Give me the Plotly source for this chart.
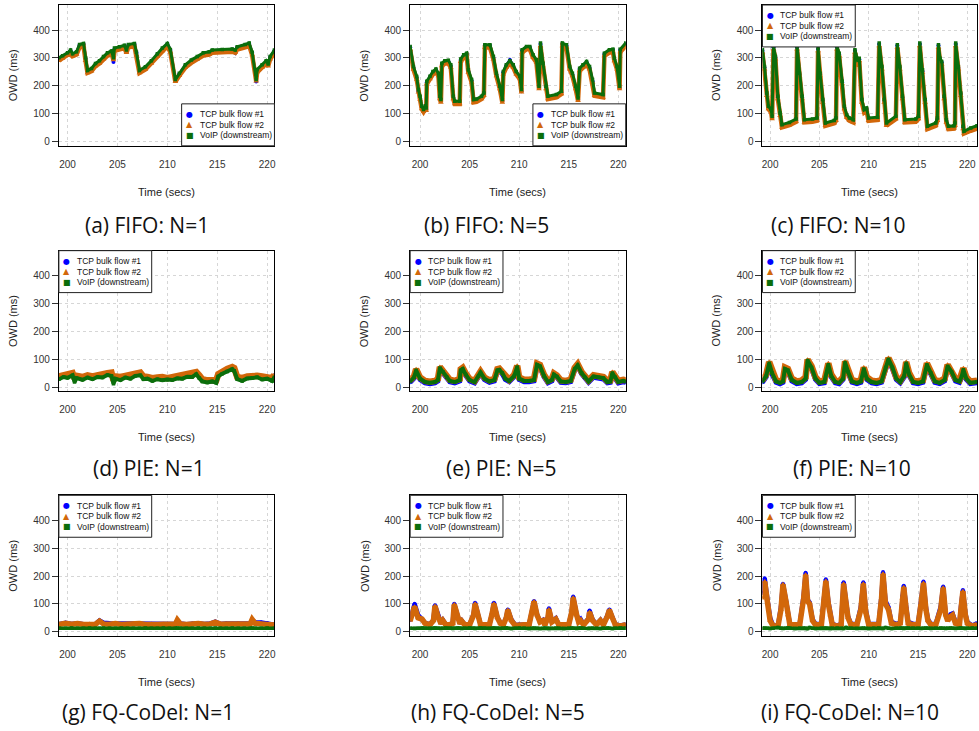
import plotly.graph_objects as go

# ---------------- DATA ----------------
# (a) FIFO N=1
fifo1_t = [199.13, 199.5, 200.0, 200.3, 200.5, 200.9, 201.2, 201.6, 201.8, 202.0,
           202.4, 202.8, 203.2, 203.6, 204.0, 204.4, 204.6, 204.7, 205.2, 205.7,
           205.9, 206.1, 206.7, 206.9, 207.2, 207.8, 208.4, 209.0, 209.5, 210.0,
           210.3, 210.8, 211.2, 211.8, 212.4, 213.0, 213.6, 214.2, 214.5, 215.5,
           216.5, 216.8, 217.0, 217.8, 218.2, 218.5, 218.9, 219.0, 219.5, 219.9,
           220.1, 220.3, 220.73]
fifo1_voip = [300, 308, 318, 328, 315, 322, 348, 352, 300, 255,
              262, 280, 290, 305, 318, 325, 300, 335, 340, 345,
              328, 348, 352, 320, 255, 268, 290, 315, 335, 352,
              330, 222, 245, 275, 292, 305, 318, 322, 328, 330,
              332, 328, 340, 348, 353, 320, 222, 258, 275, 290,
              278, 305, 328]
fifo1_tcp1 = [298, 306, 316, 326, 310, 320, 346, 350, 298, 252,
              258, 275, 285, 300, 315, 322, 285, 332, 338, 342,
              322, 346, 350, 318, 252, 265, 286, 312, 332, 350,
              328, 218, 242, 272, 288, 300, 312, 320, 326, 328,
              330, 318, 338, 346, 351, 318, 215, 255, 272, 286,
              275, 302, 326]
fifo1_tcp2 = [290, 298, 308, 318, 306, 312, 338, 342, 290, 246,
              252, 270, 280, 295, 308, 315, 292, 325, 330, 335,
              318, 338, 342, 310, 246, 258, 280, 305, 325, 342,
              320, 214, 236, 265, 282, 295, 308, 312, 318, 320,
              322, 318, 330, 338, 343, 310, 216, 248, 265, 280,
              270, 295, 318]

# (b) FIFO N=5
fifo5_t = [199.0, 199.33, 199.66, 199.83, 200.0, 200.17, 200.35, 200.55, 200.62, 200.68,
           201.0, 201.3, 201.6, 201.85, 202.0, 202.1, 202.2, 202.5, 202.85, 203.1,
           203.35, 203.5, 204.0, 204.1, 204.4, 204.7, 204.87, 205.2, 205.4, 205.7,
           206.2, 206.44, 206.54, 207.05, 207.4, 207.7, 208.05, 208.3, 208.4, 208.7,
           209.06, 209.4, 209.7, 210.07, 210.23, 210.3, 210.74, 211.07, 211.4, 211.74,
           212.0, 212.15, 212.4, 212.7, 212.9, 213.76, 214.26, 214.36, 214.77, 215.1,
           215.37, 215.7, 215.94, 216.1, 216.44, 216.8, 217.1, 217.4, 217.6, 218.46,
           218.6, 219.1, 219.46, 219.6, 219.87, 220.13, 220.2, 220.75]
fifo5_voip = [341, 269, 233, 186, 162, 126, 114, 128, 120, 216,
              234, 251, 260, 245, 162, 150, 281, 290, 291, 275,
              162, 144, 144, 296, 311, 317, 257, 222, 150, 152,
              162, 174, 347, 347, 305, 245, 198, 150, 251, 275,
              290, 275, 251, 234, 186, 329, 341, 341, 311, 293,
              198, 353, 281, 198, 162, 168, 180, 353, 347, 269,
              245, 198, 156, 263, 275, 287, 269, 222, 174, 168,
              317, 329, 331, 299, 269, 198, 331, 353]
fifo5_tcp1 = [338, 265, 228, 180, 155, 122, 110, 124, 116, 212,
              230, 247, 256, 240, 158, 146, 278, 287, 288, 270,
              158, 140, 140, 292, 308, 314, 252, 218, 146, 148,
              158, 170, 344, 344, 300, 240, 194, 146, 248, 272,
              292, 272, 246, 230, 180, 326, 338, 338, 306, 288,
              192, 350, 276, 192, 158, 164, 176, 350, 344, 264,
              240, 192, 150, 260, 272, 284, 264, 216, 170, 164,
              314, 326, 328, 294, 264, 192, 328, 350]
fifo5_tcp2 = [330, 258, 222, 176, 150, 116, 106, 118, 110, 206,
              224, 241, 250, 235, 152, 140, 271, 280, 281, 265,
              152, 134, 134, 286, 301, 307, 247, 212, 140, 142,
              152, 164, 337, 337, 295, 235, 188, 140, 241, 265,
              280, 265, 241, 224, 176, 319, 331, 331, 301, 283,
              188, 343, 271, 188, 152, 158, 170, 343, 337, 259,
              235, 188, 146, 253, 265, 277, 259, 212, 164, 158,
              307, 319, 321, 289, 259, 188, 321, 343]

# (c) FIFO N=10
fifo10_t = [199.22, 199.43, 199.66, 199.83, 200.1, 200.2, 200.34, 200.54, 200.78, 201.0,
            201.2, 201.96, 202.63, 202.73, 202.97, 203.24, 203.47, 204.3, 204.75, 204.86,
            205.06, 205.33, 205.6, 206.5, 206.68, 206.78, 207.0, 207.3, 207.52, 207.76,
            208.03, 208.43, 208.6, 208.87, 209.04, 209.3, 209.54, 209.78, 209.98, 210.9,
            211.06, 211.33, 211.57, 211.8, 212.75, 212.9, 213.15, 213.42, 213.66, 214.77,
            215.04, 215.18, 215.45, 215.72, 215.95, 216.8, 216.96, 217.07, 217.23, 217.4,
            217.64, 217.87, 218.08, 218.65, 218.75, 218.82, 219.09, 219.33, 219.56, 219.66,
            220.34, 220.98]
fifo10_voip = [329, 269, 174, 126, 114, 90, 341, 305, 162, 102,
               60, 68, 80, 341, 245, 162, 78, 80, 84, 335,
               245, 150, 66, 75, 84, 341, 317, 216, 126, 96,
               84, 78, 329, 293, 299, 150, 114, 120, 84, 87,
               353, 269, 150, 66, 90, 347, 269, 162, 78, 80,
               90, 353, 257, 150, 54, 66, 84, 347, 299, 287,
               162, 78, 54, 56, 66, 353, 269, 174, 54, 36,
               48, 56]
fifo10_tcp1 = [326, 265, 170, 122, 110, 86, 338, 300, 158, 98,
               56, 64, 76, 338, 240, 158, 74, 76, 80, 332,
               240, 146, 62, 71, 80, 338, 312, 212, 122, 92,
               80, 74, 326, 288, 295, 146, 110, 116, 80, 83,
               350, 264, 146, 62, 86, 344, 264, 158, 74, 76,
               86, 350, 252, 146, 50, 62, 80, 344, 245, 283,
               158, 74, 50, 52, 62, 350, 264, 170, 50, 32,
               44, 52]
fifo10_tcp2 = [319, 259, 164, 116, 104, 80, 331, 295, 152, 92,
               50, 58, 70, 331, 235, 152, 68, 70, 74, 325,
               235, 140, 56, 65, 74, 331, 307, 206, 116, 86,
               74, 68, 319, 283, 289, 140, 104, 110, 74, 77,
               343, 259, 140, 56, 80, 337, 259, 152, 68, 70,
               80, 343, 247, 140, 44, 56, 74, 337, 289, 277,
               152, 68, 44, 46, 56, 343, 259, 164, 44, 28,
               38, 46]

# (d) PIE N=1
pie1_t = [199.13, 199.6, 200.0, 200.5, 200.7, 200.9, 201.5, 202.0, 202.5, 203.0,
          203.5, 204.0, 204.4, 204.6, 204.8, 205.3, 205.8, 206.3, 206.8, 207.3,
          207.6, 208.0, 208.5, 209.0, 209.5, 210.0, 210.5, 211.0, 211.5, 212.0,
          212.5, 212.9, 213.2, 213.5, 214.0, 214.5, 214.9, 215.1, 215.5, 216.0,
          216.5, 216.7, 217.0, 217.5, 218.0, 218.5, 219.0, 219.5, 220.0, 220.5,
          220.73]
pie1_voip = [28, 36, 33, 42, 18, 32, 26, 34, 28, 36,
             34, 43, 40, 12, 30, 25, 34, 30, 40, 42,
             28, 30, 22, 28, 24, 27, 25, 31, 30, 37,
             36, 46, 32, 20, 16, 20, 15, 38, 48, 56,
             64, 58, 28, 22, 31, 32, 35, 27, 30, 22,
             35]
pie1_tcp1 = [36, 42, 40, 48, 28, 38, 34, 40, 36, 42,
             42, 48, 50, 22, 36, 34, 38, 40, 46, 50,
             36, 34, 30, 32, 34, 30, 33, 36, 38, 42,
             46, 52, 40, 28, 22, 24, 22, 45, 55, 63,
             70, 66, 34, 30, 36, 40, 38, 36, 34, 30,
             42]
pie1_tcp2 = [38, 44, 44, 50, 30, 40, 36, 42, 38, 44,
             44, 50, 52, 24, 38, 36, 40, 42, 48, 52,
             38, 36, 32, 34, 36, 32, 35, 38, 40, 44,
             48, 54, 42, 28, 24, 26, 24, 46, 57, 65,
             72, 68, 36, 32, 38, 42, 40, 38, 36, 32,
             44]

# (e) PIE N=5
pie5_t = [199.0, 199.4, 199.6, 200.0, 200.5, 201.0, 201.5, 201.8, 202.0, 202.3,
          202.7, 203.0, 203.5, 204.0, 204.1, 204.3, 204.6, 205.0, 205.5, 205.9,
          206.1, 206.5, 207.0, 207.5, 207.8, 208.0, 208.3, 208.6, 209.0, 209.5,
          209.8, 210.0, 210.5, 211.0, 211.5, 211.8, 212.1, 212.5, 212.9, 213.3,
          213.5, 213.8, 214.2, 214.7, 215.2, 215.6, 215.9, 216.3, 216.6, 217.0,
          217.5, 218.0, 218.5, 218.9, 219.2, 219.4, 219.7, 220.0, 220.5, 220.75]
pie5_voip = [20, 35, 60, 30, 18, 15, 18, 25, 68, 55,
             35, 22, 18, 25, 60, 65, 45, 25, 18, 40,
             52, 30, 20, 25, 60, 62, 50, 30, 22, 40,
             72, 30, 22, 22, 25, 80, 75, 40, 18, 25,
             45, 38, 20, 18, 22, 65, 78, 50, 35, 20,
             38, 35, 32, 18, 20, 50, 35, 18, 22, 20]
pie5_tcp1 = [17, 32, 56, 27, 15, 12, 15, 22, 64, 52,
             32, 19, 15, 22, 56, 61, 42, 22, 15, 37,
             48, 27, 17, 22, 56, 58, 47, 27, 19, 37,
             68, 27, 19, 19, 22, 76, 71, 37, 15, 22,
             42, 35, 17, 15, 19, 61, 74, 47, 32, 17,
             35, 32, 29, 15, 17, 46, 32, 15, 19, 17]
pie5_tcp2 = [24, 39, 64, 34, 22, 19, 22, 29, 72, 59,
             39, 26, 22, 29, 64, 69, 49, 29, 22, 44,
             56, 34, 24, 29, 64, 66, 54, 34, 26, 44,
             76, 34, 26, 26, 29, 84, 79, 44, 22, 29,
             49, 42, 24, 22, 26, 69, 82, 54, 39, 24,
             42, 39, 36, 22, 24, 54, 39, 22, 26, 24]

# (f) PIE N=10
pie10_t = [199.22, 199.6, 199.9, 200.2, 200.6, 201.0, 201.3, 201.5, 201.8, 202.2,
           202.7, 203.2, 203.6, 203.8, 204.2, 204.6, 205.0, 205.5, 205.9, 206.2,
           206.6, 207.0, 207.4, 207.6, 207.9, 208.3, 208.8, 209.2, 209.5, 209.8,
           210.3, 210.8, 211.3, 211.7, 212.0, 212.4, 212.8, 213.2, 213.6, 213.8,
           214.1, 214.5, 215.0, 215.5, 215.9, 216.3, 216.7, 217.2, 217.7, 218.0,
           218.4, 218.8, 219.2, 219.4, 219.6, 219.9, 220.3, 220.98]
pie10_voip = [20, 40, 85, 50, 20, 15, 20, 65, 60, 25,
              15, 18, 30, 95, 70, 30, 15, 18, 80, 40,
              18, 15, 30, 88, 55, 20, 15, 20, 65, 30,
              18, 15, 20, 70, 100, 70, 30, 18, 40, 85,
              45, 18, 15, 20, 80, 50, 20, 15, 25, 75,
              55, 25, 20, 35, 62, 30, 15, 18]
pie10_tcp1 = [17, 36, 80, 46, 17, 12, 17, 60, 56, 22,
              12, 15, 27, 90, 66, 27, 12, 15, 76, 36,
              15, 12, 27, 84, 51, 17, 12, 17, 60, 27,
              15, 12, 17, 66, 96, 66, 27, 15, 36, 80,
              41, 15, 12, 17, 76, 46, 17, 12, 22, 70,
              51, 22, 17, 32, 58, 27, 12, 15]
pie10_tcp2 = [25, 44, 90, 55, 25, 20, 25, 70, 65, 30,
              20, 23, 35, 98, 75, 35, 20, 23, 85, 45,
              23, 20, 35, 92, 60, 25, 20, 25, 70, 35,
              23, 20, 25, 75, 104, 75, 35, 23, 45, 90,
              50, 23, 20, 25, 85, 55, 25, 20, 30, 80,
              60, 30, 25, 40, 67, 35, 20, 23]

# (g) FQ-CoDel N=1
fqc1_t = [199.13, 199.8, 200.4, 201.0, 201.6, 202.2, 202.8, 203.2, 203.6, 204.2,
          204.8, 205.4, 206.0, 206.6, 207.2, 207.8, 208.4, 209.0, 209.6, 210.2,
          210.8, 211.0, 211.3, 211.9, 212.5, 213.1, 213.7, 214.3, 214.8, 215.3,
          215.9, 216.5, 217.1, 217.7, 218.3, 218.5, 218.8, 219.4, 220.0, 220.73]
fqc1_tcp2 = [26, 30, 27, 29, 26, 28, 27, 38, 28, 27,
             29, 26, 28, 27, 29, 26, 28, 26, 27, 26,
             27, 42, 28, 26, 28, 29, 27, 28, 34, 27,
             28, 27, 29, 27, 28, 44, 30, 28, 27, 24]
fqc1_tcp1 = [27, 32, 28, 30, 27, 28, 28, 40, 32, 30,
             30, 27, 28, 28, 30, 27, 28, 27, 28, 27,
             28, 40, 29, 27, 29, 30, 28, 29, 36, 28,
             29, 28, 30, 28, 29, 42, 34, 33, 31, 25]
fqc1_voip = [12, 12, 13, 12, 12, 13, 12, 12, 13, 12,
             12, 13, 12, 12, 12, 13, 12, 12, 13, 12,
             12, 13, 12, 12, 12, 13, 12, 12, 13, 12,
             12, 13, 12, 12, 12, 13, 12, 12, 13, 12]

# (h) FQ-CoDel N=5
fqc5_t = [199.0, 199.45, 199.8, 200.2, 200.5, 201.0, 201.35, 201.5, 201.8, 202.1,
          202.3, 202.6, 203.0, 203.3, 203.45, 203.8, 204.0, 204.2, 204.5, 205.0,
          205.4, 205.55, 205.9, 206.1, 206.5, 207.0, 207.3, 207.45, 207.8, 208.1,
          208.4, 208.7, 208.85, 209.2, 209.6, 210.0, 210.5, 211.0, 211.3, 211.5,
          211.8, 212.1, 212.4, 212.6, 212.9, 213.0, 213.3, 213.7, 214.0, 214.5,
          215.0, 215.3, 215.45, 215.8, 216.0, 216.2, 216.5, 217.0, 217.1, 217.4,
          217.8, 218.2, 218.5, 218.9, 219.1, 219.4, 219.7, 220.2, 220.75]
fqc5_tcp2 = [40, 90, 50, 45, 30, 25, 40, 92, 55, 30,
             40, 25, 25, 30, 98, 50, 30, 38, 25, 25,
             60, 100, 50, 25, 25, 25, 70, 100, 50, 30,
             25, 50, 78, 40, 22, 25, 25, 25, 70, 108,
             60, 35, 40, 25, 50, 80, 35, 45, 25, 25,
             25, 70, 122, 60, 35, 40, 25, 45, 70, 40,
             25, 40, 25, 55, 78, 50, 25, 20, 25]
fqc5_tcp1 = [42, 100, 60, 46, 32, 26, 42, 95, 58, 32,
             42, 26, 26, 32, 100, 52, 32, 40, 26, 26,
             62, 104, 55, 26, 26, 26, 72, 104, 52, 32,
             26, 52, 80, 45, 24, 26, 26, 26, 72, 110,
             62, 36, 42, 26, 52, 84, 36, 48, 26, 26,
             26, 72, 126, 62, 38, 45, 26, 48, 76, 44,
             26, 42, 26, 58, 80, 52, 26, 22, 26]
fqc5_voip = [12, 11, 12, 13, 12, 11, 12, 13, 12, 11,
             12, 13, 12, 11, 12, 13, 12, 11, 12, 13,
             12, 11, 12, 13, 12, 11, 12, 13, 12, 11,
             12, 13, 12, 11, 12, 13, 12, 11, 12, 13,
             12, 11, 12, 13, 12, 11, 12, 13, 12, 11,
             12, 13, 12, 11, 12, 13, 12, 11, 12, 13,
             12, 11, 12, 13, 12, 11, 12, 13, 12]

# (i) FQ-CoDel N=10
fqc10_t = [199.22, 199.45, 199.75, 200.0, 200.3, 200.8, 201.1, 201.3, 201.6, 201.8,
           202.0, 202.5, 203.0, 203.4, 203.6, 203.8, 204.0, 204.3, 204.6, 205.2,
           205.5, 205.65, 205.9, 206.1, 206.3, 206.8, 207.2, 207.45, 207.7, 207.9,
           208.2, 208.8, 209.2, 209.45, 209.7, 210.0, 210.5, 211.0, 211.3, 211.45,
           211.7, 212.0, 212.3, 212.8, 213.2, 213.4, 213.55, 213.8, 214.0, 214.5,
           215.0, 215.3, 215.55, 215.8, 216.0, 216.3, 216.8, 217.3, 217.55, 217.8,
           218.0, 218.3, 218.5, 218.8, 219.2, 219.35, 219.55, 219.8, 220.0, 220.5,
           220.98]
fqc10_tcp2 = [120, 180, 100, 40, 20, 20, 80, 170, 110, 60,
              25, 25, 25, 120, 205, 110, 100, 40, 25, 25,
              120, 182, 100, 60, 25, 20, 25, 172, 100, 50,
              25, 25, 80, 172, 70, 25, 25, 25, 120, 208,
              100, 80, 30, 25, 30, 120, 160, 80, 30, 25,
              25, 100, 175, 80, 40, 25, 25, 80, 158, 60,
              40, 55, 60, 30, 25, 80, 145, 60, 30, 20,
              25]
fqc10_tcp1 = [140, 192, 110, 50, 22, 22, 90, 172, 115, 65,
              28, 26, 28, 130, 212, 115, 105, 45, 28, 28,
              130, 188, 110, 65, 28, 22, 28, 178, 110, 55,
              28, 28, 90, 178, 78, 28, 28, 28, 130, 214,
              110, 88, 35, 28, 32, 128, 165, 88, 35, 28,
              28, 110, 180, 88, 45, 28, 28, 90, 162, 65,
              45, 62, 65, 35, 28, 90, 150, 65, 35, 22,
              30]
fqc10_voip = [12, 13, 12, 11, 12, 15, 12, 11, 12, 13,
              12, 11, 12, 13, 12, 11, 15, 12, 11, 12,
              12, 13, 12, 11, 12, 13, 12, 11, 15, 12,
              12, 11, 12, 13, 12, 11, 12, 13, 12, 11,
              15, 12, 11, 12, 13, 12, 11, 12, 13, 12,
              12, 11, 12, 13, 12, 11, 12, 13, 12, 11,
              12, 13, 12, 11, 12, 13, 12, 11, 12, 13,
              12]

captions = ["(a) FIFO: N=1", "(b) FIFO: N=5", "(c) FIFO: N=10",
            "(d) PIE: N=1", "(e) PIE: N=5", "(f) PIE: N=10",
            "(g) FQ-CoDel: N=1", "(h) FQ-CoDel: N=5", "(i) FQ-CoDel: N=10"]
series_names = ["TCP bulk flow #1", "TCP bulk flow #2", "VoIP (downstream)"]
x_ticks = [200, 205, 210, 215, 220]
y_ticks = [0, 100, 200, 300, 400]

panels = [
    (fifo1_t, fifo1_tcp1, fifo1_tcp2, fifo1_voip),
    (fifo5_t, fifo5_tcp1, fifo5_tcp2, fifo5_voip),
    (fifo10_t, fifo10_tcp1, fifo10_tcp2, fifo10_voip),
    (pie1_t, pie1_tcp1, pie1_tcp2, pie1_voip),
    (pie5_t, pie5_tcp1, pie5_tcp2, pie5_voip),
    (pie10_t, pie10_tcp1, pie10_tcp2, pie10_voip),
    (fqc1_t, fqc1_tcp1, fqc1_tcp2, fqc1_voip),
    (fqc5_t, fqc5_tcp1, fqc5_tcp2, fqc5_voip),
    (fqc10_t, fqc10_tcp1, fqc10_tcp2, fqc10_voip),
]

# ---------------- LAYOUT / STYLE ----------------
W, H = 979, 731
COLS = [(58, 274), (410, 626), (763, 978)]
ROWS = [(5, 146), (251, 392), (496, 637)]
XRANGES = [(199.13, 220.73), (199.0, 220.75), (199.22, 220.98)]
YRANGE = (-16, 490)
CAP_X = [146, 486, 839, 148, 502, 853, 147, 498, 851]
CAP_Y = [225, 469, 713]
LEGEND_BOTTOM_RIGHT = [True, True, False, False, False, False, False, False, False]
# line widths per row (tcp1, tcp2, voip)
ROW_WIDTHS = [(3.0, 4.5, 3.0), (5.0, 6.5, 4.0), (4.5, 5.5, 3.5)]

BLUE = "#0000FF"
ORANGE = "#D2670A"
GREEN = "#0B6E0B"
COLORS = [BLUE, ORANGE, GREEN]
GLYPHS = ["\u25CF", "\u25B2", "\u25A0"]
FONT = "Liberation Sans, Arial, sans-serif"


def px(x):
    return x / W


def py(y):
    return 1 - y / H


fig = go.Figure()
annotations = []
shapes = []

for k, (t, tcp1, tcp2, voip) in enumerate(panels):
    r, c = divmod(k, 3)
    ax = "" if k == 0 else str(k + 1)
    xl, xr = COLS[c]
    yt, yb = ROWS[r]
    w1, w2, w3 = ROW_WIDTHS[r]

    styles = [
        (tcp1, BLUE, w1, "circle", 4),
        (tcp2, ORANGE, w2, "triangle-up", 5),
        (voip, GREEN, w3, "square", 3.5),
    ]
    for vals, col, lw, sym, ms in styles:
        fig.add_trace(go.Scatter(
            x=t, y=vals, mode="lines+markers",
            line=dict(color=col, width=lw),
            marker=dict(color=col, symbol=sym, size=ms),
            xaxis="x" + ax, yaxis="y" + ax, showlegend=False,
            hoverinfo="skip",
        ))

    fig.layout["xaxis" + ax] = dict(
        domain=[px(xl), px(xr)], range=list(XRANGES[c]), anchor="y" + ax,
        showline=True, mirror=True, linecolor="black", linewidth=1,
        showgrid=True, gridcolor="#d6d6d6", griddash="dot", gridwidth=1,
        tickvals=x_ticks, ticks="outside", ticklen=9,
        tickcolor="rgba(0,0,0,0)", zeroline=False,
        tickfont=dict(family=FONT, size=10, color="#333333"),
    )
    fig.layout["yaxis" + ax] = dict(
        domain=[py(yb), py(yt)], range=list(YRANGE), anchor="x" + ax,
        showline=True, mirror=True, linecolor="black", linewidth=1,
        showgrid=True, gridcolor="#d6d6d6", griddash="dot", gridwidth=1,
        tickvals=y_ticks, ticks="outside", ticklen=6, tickcolor="#333333",
        zeroline=False,
        tickfont=dict(family=FONT, size=10, color="#333333"),
    )

    # axis titles
    annotations.append(dict(
        x=px((xl + xr) / 2), y=py(yb + 46), xref="paper", yref="paper",
        text="Time (secs)", showarrow=False, xanchor="center", yanchor="middle",
        font=dict(family=FONT, size=11, color="#222222"),
    ))
    annotations.append(dict(
        x=px(xl - 46), y=py((yt + yb) / 2), xref="paper", yref="paper",
        text="OWD (ms)", showarrow=False, textangle=-90,
        xanchor="center", yanchor="middle",
        font=dict(family=FONT, size=11, color="#222222"),
    ))
    # caption
    annotations.append(dict(
        x=px(CAP_X[k]), y=py(CAP_Y[r]), xref="paper", yref="paper",
        text=captions[k], showarrow=False, xanchor="center", yanchor="middle",
        font=dict(family="Open Sans, Lato, sans-serif", size=21, color="#111111"),
    ))

    # legend box
    bw, bh = 93, 42
    if LEGEND_BOTTOM_RIGHT[k]:
        bx0, by0 = xr - bw, yb - bh
    else:
        bx0, by0 = xl, yt
    shapes.append(dict(
        type="rect", xref="paper", yref="paper",
        x0=px(bx0), x1=px(bx0 + bw), y0=py(by0 + bh), y1=py(by0),
        line=dict(color="#222222", width=1), fillcolor="white", layer="above",
    ))
    for i, name in enumerate(series_names):
        ry = by0 + 10.5 + i * 10.5
        annotations.append(dict(
            x=px(bx0 + 8), y=py(ry), xref="paper", yref="paper",
            text=GLYPHS[i], showarrow=False, xanchor="center", yanchor="middle",
            font=dict(family="DejaVu Sans", size=8, color=COLORS[i]),
        ))
        annotations.append(dict(
            x=px(bx0 + 16), y=py(ry), xref="paper", yref="paper",
            text=name, showarrow=False, xanchor="left", yanchor="middle",
            font=dict(family=FONT, size=8.5, color="#111111"),
        ))

fig.update_layout(
    width=W, height=H, margin=dict(l=0, r=0, t=0, b=0),
    paper_bgcolor="white", plot_bgcolor="white",
    showlegend=False, annotations=annotations, shapes=shapes,
)

fig.write_html(
    "out.html",
    config={"displayModeBar": False},
    post_script="document.body.style.margin='0px';document.body.style.overflow='hidden';",
)
